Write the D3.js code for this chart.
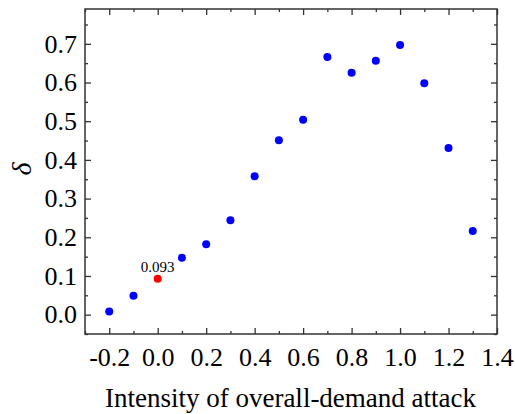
<!DOCTYPE html>
<html>
<head>
<meta charset="utf-8">
<script src="https://cdn.jsdelivr.net/npm/d3@7"></script>
<style>
html,body{margin:0;padding:0;background:#fff;}
svg{display:block;font-family:"Liberation Serif","Times New Roman",serif;}
</style>
</head>
<body>
<svg id="chart" width="515" height="414"></svg>
<script>
const intensity = [-0.2, -0.1, 0.0, 0.1, 0.2, 0.3, 0.4, 0.5, 0.6, 0.7, 0.8, 0.9, 1.0, 1.1, 1.2, 1.3];
const delta = [0.008, 0.049, 0.093, 0.147, 0.182, 0.244, 0.358, 0.451, 0.504, 0.666, 0.625, 0.656, 0.697, 0.598, 0.431, 0.216];
const highlightX = 0.0;
const highlightLabel = "0.093";
const xTicks = [-0.2, 0.0, 0.2, 0.4, 0.6, 0.8, 1.0, 1.2, 1.4];
const yTicks = [0.0, 0.1, 0.2, 0.3, 0.4, 0.5, 0.6, 0.7];
const xMinor = [-0.3, -0.1, 0.1, 0.3, 0.5, 0.7, 0.9, 1.1, 1.3];
const yMinor = [-0.05, 0.05, 0.15, 0.25, 0.35, 0.45, 0.55, 0.65, 0.75];
const xTitle = "Intensity of overall-demand attack";
const yTitle = "δ";

const svg = d3.select("#chart");
const L = 85, R = 497, T = 9, B = 334;
const x = d3.scaleLinear().domain([-0.3, 1.4]).range([L, R]);
const y = d3.scaleLinear().domain([-0.05, 0.79]).range([B, T]);
const fmt = v => d3.format(".1f")(v).replace("\u2212", "-");

function styleAxis(g){
  g.select(".domain").remove();
  g.selectAll(".tick line").attr("stroke", "#333").attr("stroke-width", 1.3);
}
function styleText(g){
  g.selectAll("text").attr("font-size", 26).attr("fill", "#000").attr("font-family", "Liberation Serif");
}

// bottom
svg.append("g").attr("transform", `translate(0,${B})`)
  .call(d3.axisBottom(x).tickValues(xTicks).tickFormat(fmt).tickSizeInner(-6).tickPadding(14))
  .call(styleAxis).call(styleText);
svg.append("g").attr("transform", `translate(0,${B})`)
  .call(d3.axisBottom(x).tickValues(xMinor).tickFormat("").tickSizeInner(-3))
  .call(styleAxis);
// top
svg.append("g").attr("transform", `translate(0,${T})`)
  .call(d3.axisTop(x).tickValues(xTicks).tickFormat("").tickSizeInner(-6))
  .call(styleAxis);
svg.append("g").attr("transform", `translate(0,${T})`)
  .call(d3.axisTop(x).tickValues(xMinor).tickFormat("").tickSizeInner(-3))
  .call(styleAxis);
// left
svg.append("g").attr("transform", `translate(${L},0)`)
  .call(d3.axisLeft(y).tickValues(yTicks).tickFormat(fmt).tickSizeInner(-6).tickPadding(8))
  .call(styleAxis).call(styleText);
svg.append("g").attr("transform", `translate(${L},0)`)
  .call(d3.axisLeft(y).tickValues(yMinor).tickFormat("").tickSizeInner(-3))
  .call(styleAxis);
// right
svg.append("g").attr("transform", `translate(${R},0)`)
  .call(d3.axisRight(y).tickValues(yTicks).tickFormat("").tickSizeInner(-6))
  .call(styleAxis);
svg.append("g").attr("transform", `translate(${R},0)`)
  .call(d3.axisRight(y).tickValues(yMinor).tickFormat("").tickSizeInner(-3))
  .call(styleAxis);

// frame
svg.append("rect").attr("x", L).attr("y", T).attr("width", R - L).attr("height", B - T)
  .attr("fill", "none").attr("stroke", "#333").attr("stroke-width", 1.5);

// points
const pts = intensity.map((v, i) => ({x: v, y: delta[i]}));
svg.append("g").selectAll("circle").data(pts).join("circle")
  .attr("cx", d => x(d.x)).attr("cy", d => y(d.y)).attr("r", 4)
  .attr("fill", d => d.x === highlightX ? "#ff0000" : "#0000ff");

const hp = pts.find(d => d.x === highlightX);
svg.append("text").attr("x", x(hp.x)).attr("y", y(hp.y) - 7)
  .attr("text-anchor", "middle").attr("font-size", 15).attr("fill", "#000")
  .text(highlightLabel);

// titles
svg.append("text").attr("x", 290.5).attr("y", 407)
  .attr("text-anchor", "middle").attr("font-size", 27).attr("fill", "#000")
  .text(xTitle);
svg.append("text").attr("transform", `translate(31,169) rotate(-90)`)
  .attr("text-anchor", "middle").attr("font-size", 28).attr("font-style", "italic").attr("fill", "#000")
  .text(yTitle);
</script>
</body>
</html>
